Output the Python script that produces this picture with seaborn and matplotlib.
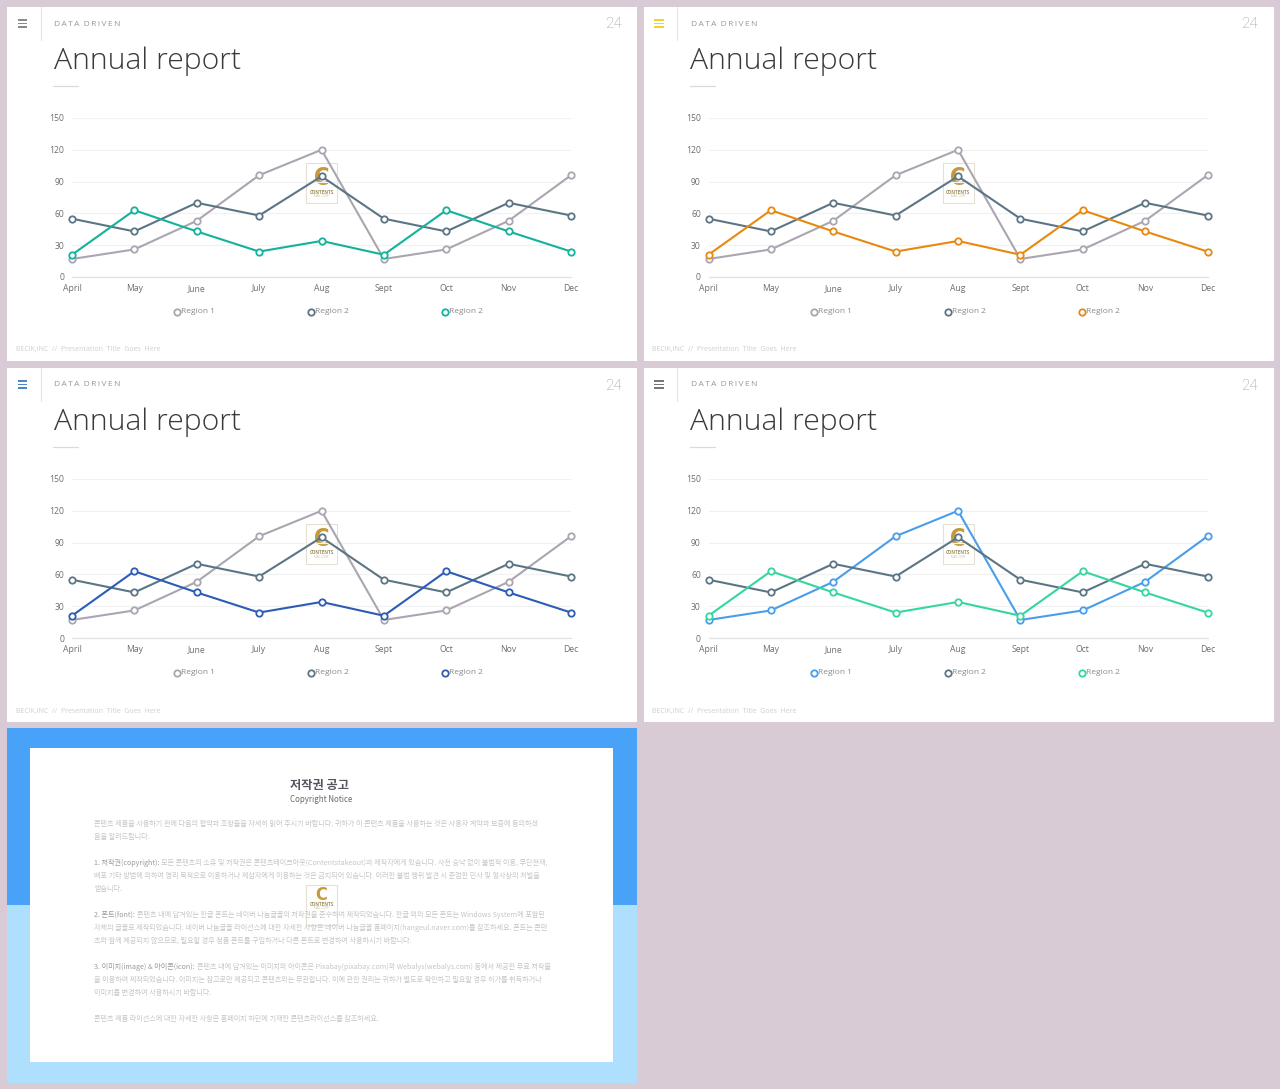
import matplotlib
matplotlib.use("Agg")
import matplotlib.pyplot as plt
import seaborn as sns
from matplotlib.patches import Rectangle

months = ["April", "May", "June", "July", "Aug", "Sept", "Oct", "Nov", "Dec"]
region_a = [17, 26, 53, 96, 120, 17, 26, 53, 96]
region_b = [55, 43, 70, 58, 95, 55, 43, 70, 58]
region_c = [21, 63, 43, 24, 34, 21, 63, 43, 24]
y_ticks = [0, 30, 60, 90, 120, 150]
legend_names = ["Region 1", "Region 2", "Region 2"]

BG = "#D8CBD5"
GRAY = "#A9A6B1"
SLATE = "#5C7585"
W, H = 1280, 1089

# slide origin, region 1 colour, region 3 colour, menu icon colour
slides = [
    (7, 7, GRAY, "#14B19B", "#8A8A8A"),
    (643.5, 7, GRAY, "#E8890F", "#F2D22E"),
    (7, 368, GRAY, "#2D5CB5", "#4F86C6"),
    (643.5, 368, "#4A9DEA", "#35D6A1", "#777777"),
]

# y position, darker lead-in, rest of the line
notice_lines = [
    (824, "", "콘텐츠 제품을 사용하기 전에 다음의 협약과 조항들을 자세히 읽어 주시기 바랍니다. 귀하가 이 콘텐츠 제품을 사용하는 것은 사용자 계약과 보증에 동의하셨"),
    (837, "", "음을 알려드립니다."),
    (863, "1. 저작권(copyright):", "모든 콘텐츠의 소유 및 저작권은 콘텐츠테이크아웃(Contentstakeout)과 제작자에게 있습니다. 사전 승낙 없이 불법적 이용, 무단전재,"),
    (876, "", "배포 기타 방법에 의하여 영리 목적으로 이용하거나 제삼자에게 이용하는 것은 금지되어 있습니다. 이러한 불법 행위 발견 시 준엄한 민사 및 형사상의 처벌을"),
    (889, "", "받습니다."),
    (915, "2. 폰트(font):", "콘텐츠 내에 담겨있는 한글 폰트는 네이버 나눔글꼴의 저작권을 준수하여 제작되었습니다. 한글 외의 모든 폰트는 Windows System에 포함된"),
    (928, "", "자체의 글꼴로 제작되었습니다. 네이버 나눔글꼴 라이선스에 대한 자세한 사항은 네이버 나눔글꼴 홈페이지(hangeul.naver.com)를 참조하세요. 폰트는 콘텐"),
    (941, "", "츠와 함께 제공되지 않으므로, 필요할 경우 정품 폰트를 구입하거나 다른 폰트로 변경하여 사용하시기 바랍니다."),
    (967, "3. 이미지(image) & 아이콘(icon):", "콘텐츠 내에 담겨있는 이미지와 아이콘은 Pixabay(pixabay.com)와 Webalys(webalys.com) 등에서 제공한 무료 저작물"),
    (980, "", "을 이용하여 제작되었습니다. 이미지는 참고로만 제공되고 콘텐츠와는 무관합니다. 이에 관한 권리는 귀하가 별도로 확인하고 필요할 경우 허가를 취득하거나"),
    (993, "", "이미지를 변경하여 사용하시기 바랍니다."),
    (1019, "", "콘텐츠 제품 라이선스에 대한 자세한 사항은 홈페이지 하단에 기재한 콘텐츠라이선스를 참조하세요."),
]

sns.set_theme(style="white")
plt.rcParams["font.family"] = ["Open Sans", "DejaVu Sans"]
KR = ["Noto Sans CJK KR", "DejaVu Sans"]

fig = plt.figure(figsize=(W / 100, H / 100), dpi=100, facecolor=BG)

# full page layer in pixel coordinates for the slide furniture
page = fig.add_axes([0, 0, 1, 1], zorder=0)
page.set_xlim(0, W)
page.set_ylim(H, 0)
page.axis("off")


def rect(x0, y0, x1, y1, **kw):
    page.add_patch(Rectangle((x0, y0), x1 - x0, y1 - y0, linewidth=kw.pop("lw", 0), **kw))


def logo(x0, y0, c_size=17, c_y=15, text_y=29):
    rect(x0, y0, x0 + 31, y0 + 40, facecolor="white", edgecolor="#E4DDCF", lw=0.8, alpha=0.9)
    page.text(x0 + 15.5, y0 + c_y, "C", color="#C49A3A", fontsize=c_size, fontweight="bold",
              stretch="condensed", ha="center", va="center", family="DejaVu Sans")
    page.text(x0 + 15.5, y0 + text_y, "CONTENTS", color="#A08F62", fontsize=3.3, fontweight="bold",
              ha="center", va="center")
    page.text(x0 + 15.5, y0 + text_y + 3.6, "MAIL CORP", color="#CFC197", fontsize=2.1,
              ha="center", va="center")


for sx, sy, col_a, col_c, col_menu in slides:
    rect(sx, sy, sx + 630, sy + 354, facecolor="white")
    for dy in (12, 15.5, 19):
        rect(sx + 10.5, sy + dy, sx + 20, sy + dy + 1.8, facecolor=col_menu)
    page.plot([sx + 33.5, sx + 33.5], [sy, sy + 33], color="#E4E4E4", lw=0.8)
    page.text(sx + 47.5, sy + 17, "D\u2009A\u2009T\u2009A  D\u2009R\u2009I\u2009V\u2009E\u2009N",
              color="#8E9A9E", fontsize=6, va="center")
    page.text(sx + 614.5, sy + 17.5, "24", color="#9C9C9C", fontsize=11, ha="right", va="center",
              family="Roboto", fontweight="light")
    page.text(sx + 46.5, sy + 62, "Annual report", color="#3A3A3A", fontsize=21.7, va="baseline",
              family="Open Sans", fontweight="light")
    page.plot([sx + 46, sx + 71], [sy + 78.5, sy + 78.5], color="#DADADA", lw=0.9)
    page.text(sx + 9, sy + 343, "BECIK,INC  //  Presentation  Title  Goes  Here",
              color="#CFCFCF", fontsize=5.05, va="center")
    logo(sx + 299, sy + 156)

    # legend row
    for lx, name, col in zip((170, 304, 438), legend_names, (col_a, SLATE, col_c)):
        page.plot(sx + lx, sy + 304.5, "o", ms=4.6, mfc="white", mec=col, mew=1.3)
        page.text(sx + lx + 4, sy + 304.5, name, color="#8A8A8A", fontsize=6, va="center")

    # chart axes sit on top of the slide, transparent
    left = (sx + 65) / W
    bottom = 1 - (sy + 270) / H
    ax = fig.add_axes([left, bottom, 499 / W, 159 / H], zorder=2)
    ax.patch.set_alpha(0)
    for vals, col in ((region_a, col_a), (region_b, SLATE), (region_c, col_c)):
        sns.lineplot(x=months, y=vals, ax=ax, color=col, linewidth=1.5, sort=False,
                     marker="o", markersize=4.6, markerfacecolor="white",
                     markeredgecolor=col, markeredgewidth=1.3, clip_on=False, zorder=3)
    ax.set_xlim(0, len(months) - 1)
    ax.set_ylim(0, 150)
    ax.set_yticks(y_ticks)
    ax.grid(axis="y", color="#F1F1F1", lw=0.9)
    ax.grid(axis="x", visible=False)
    ax.set_axisbelow(True)
    sns.despine(ax=ax, left=True, top=True, right=True, bottom=False)
    ax.spines["bottom"].set_color("#E2E2E2")
    ax.spines["bottom"].set_linewidth(0.9)
    ax.tick_params(axis="both", length=0, labelsize=6.2, labelcolor="#6E6E6E")
    ax.tick_params(axis="x", pad=10)
    ax.tick_params(axis="y", pad=5.5)
    for lab in ax.get_xticklabels():
        lab.set_va("baseline")

# copyright slide
rect(7, 728, 637, 905, facecolor="#47A2F8")
rect(7, 905, 637, 1083, facecolor="#AEDFFC")
rect(30, 748, 613, 1062, facecolor="white")
page.text(319, 785, "저작권 공고", color="#55555F", fontsize=8.8, fontweight="bold",
          ha="center", va="center", family=KR)
page.text(321.5, 800, "Copyright Notice", color="#6A6A6A", fontsize=5.7, ha="center", va="center", family=KR)

renderer = fig.canvas.get_renderer()
for ny, lead, line in notice_lines:
    x = 94
    if lead:
        t = page.text(x, ny, lead, color="#9A9A9A", fontsize=5.13, va="center", family=KR)
        x += t.get_window_extent(renderer).width + 2
    page.text(x, ny, line, color="#C6C6C6", fontsize=5.13, va="center", family=KR)
logo(306, 885, c_size=13, c_y=10, text_y=19.5)

fig.savefig("out.png", dpi=100, facecolor=BG)
